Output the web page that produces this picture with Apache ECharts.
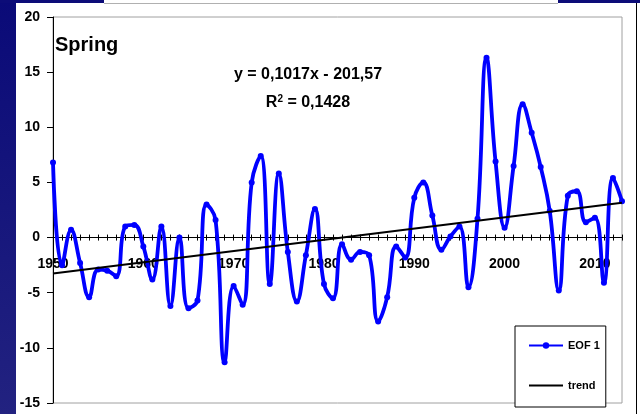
<!DOCTYPE html>
<html>
<head>
<meta charset="utf-8">
<script src="https://cdn.jsdelivr.net/npm/echarts@6/dist/echarts.min.js"></script>
<style>
html,body{margin:0;padding:0;background:#fff;}
#chart{width:640px;height:414px;}
</style>
</head>
<body>
<div id="chart"></div>
<script>
const years = ['1950','1951','1952','1953','1954','1955','1956','1957','1958','1959',
  '1960','1961','1962','1963','1964','1965','1966','1967','1968','1969',
  '1970','1971','1972','1973','1974','1975','1976','1977','1978','1979',
  '1980','1981','1982','1983','1984','1985','1986','1987','1988','1989',
  '1990','1991','1992','1993','1994','1995','1996','1997','1998','1999',
  '2000','2001','2002','2003','2004','2005','2006','2007','2008','2009',
  '2010','2011','2012','2013'];
const eof1 = [6.8,-2.5,0.7,-2.3,-5.4,-2.9,-3.0,-3.5,1.0,1.15,
  -0.8,-3.8,1.0,-6.2,0.0,-6.4,-5.7,3.0,1.6,-11.3,
  -4.4,-6.1,5.0,7.4,-4.2,5.8,-1.3,-5.8,-1.6,2.6,
  -4.2,-5.5,-0.6,-2.0,-1.3,-1.6,-7.6,-5.4,-0.8,-1.8,
  3.6,5.0,2.0,-1.1,0.1,1.0,-4.5,1.7,16.3,6.9,
  0.9,6.5,12.1,9.5,6.4,2.4,-4.8,3.8,4.2,1.4,
  1.8,-4.1,5.4,3.3];
const trendYears = ['1950','2013'];
const trendValues = [-3.26, 3.15];
const yTicks = {min:-15, max:20, interval:5};
const titleText = 'Spring';
const eqText = 'y = 0,1017x - 201,57';
const r2Text = 'R{sup|2} = 0,1428';

const FONT = '"Liberation Sans", Arial, sans-serif';
const G = {left:53, top:17, right:18, bottom:11};
const H = 414 - G.top - G.bottom;
// upper grid spans 0..max so its bottom edge is the zero line of the main grid
const zeroBottom = G.bottom + H * (0 - yTicks.min) / (yTicks.max - yTicks.min);

const chart = echarts.init(document.getElementById('chart'), null, {renderer:'canvas'});
chart.setOption({
  animation:false,
  backgroundColor:'#fff',
  title:{text:titleText, left:55, top:35, padding:0,
    textStyle:{fontFamily:FONT, fontWeight:'bold', fontSize:20, color:'#000'}},
  graphic:[
    {type:'rect', z:-10, shape:{x:0,y:0,width:16,height:414},
      style:{fill:new echarts.graphic.LinearGradient(0,0,0,1,[{offset:0,color:'#0a0a78'},{offset:1,color:'#222280'}])}},
    {type:'rect', z:-10, shape:{x:0,y:0,width:104,height:3}, style:{fill:'#0c0c78'}},
    {type:'rect', z:-10, shape:{x:558,y:0,width:82,height:3}, style:{fill:'#0c0c78'}},
    {type:'line', z:-10, shape:{x1:104,y1:3.5,x2:558,y2:3.5}, style:{stroke:'#b0b0b0',lineWidth:1}},
    {type:'line', z:-10, shape:{x1:636.5,y1:3,x2:636.5,y2:414}, style:{stroke:'#000',lineWidth:1}},
    {type:'text', style:{text:eqText, x:308, y:67, align:'center', verticalAlign:'top',
      font:'bold 16px '+FONT, fill:'#000'}},
    {type:'text', style:{text:r2Text, x:308, y:94, align:'center', verticalAlign:'top',
      font:'bold 16px '+FONT, fill:'#000',
      rich:{sup:{fontSize:10, fontWeight:'bold', fontFamily:FONT, verticalAlign:'top', padding:[0,0,8,0]}}}}
  ],
  grid:[
    Object.assign({show:true, borderColor:'#a0a0a0', borderWidth:1, backgroundColor:'#fff', outerBoundsMode:'none', containLabel:false}, G),
    {show:false, outerBoundsMode:'none', containLabel:false, left:G.left, right:G.right, top:G.top, bottom:zeroBottom}
  ],
  legend:{
    orient:'vertical', left:515, top:326, padding:[14,6,16,13],
    itemWidth:34, itemHeight:8, itemGap:29,
    borderColor:'#000', borderWidth:1, backgroundColor:'#fff',
    textStyle:{fontFamily:FONT, fontWeight:'bold', fontSize:11, color:'#000'},
    data:[{name:'EOF 1'}, {name:'trend', itemStyle:{opacity:0}}]
  },
  xAxis:[
    {type:'category', gridIndex:0, data:years, boundaryGap:false,
      axisLine:{onZero:true, lineStyle:{color:'#000', width:1}},
      axisTick:{show:true, interval:0, length:3, inside:true, lineStyle:{color:'#000'}},
      axisLabel:{show:false},
      splitLine:{show:false}},
    {type:'category', gridIndex:1, data:years, boundaryGap:false, position:'bottom',
      axisLine:{show:false, onZero:false},
      axisTick:{show:true, interval:0, length:3, inside:false, lineStyle:{color:'#000'}},
      axisLabel:{interval:9, margin:20, fontFamily:FONT, fontWeight:'bold', fontSize:14, color:'#000'},
      splitLine:{show:false}}
  ],
  yAxis:[
    {type:'value', gridIndex:0, min:yTicks.min, max:yTicks.max, interval:yTicks.interval,
      axisLine:{show:true, onZero:false, lineStyle:{color:'#000', width:1}},
      axisTick:{show:true, length:6, inside:false, lineStyle:{color:'#000'}},
      axisLabel:{margin:13, fontFamily:FONT, fontWeight:'bold', fontSize:14, color:'#000'},
      splitLine:{show:false}},
    {type:'value', gridIndex:1, min:0, max:yTicks.max, interval:yTicks.interval,
      axisLine:{show:false, onZero:false}, axisTick:{show:false}, axisLabel:{show:false}, splitLine:{show:false}}
  ],
  series:[
    {name:'EOF 1', type:'line', data:eof1, smooth:0.45, showAllSymbol:true,
      symbol:'circle', symbolSize:6,
      lineStyle:{color:'#0000ff', width:3.8}, itemStyle:{color:'#0000ff'}, z:3},
    {name:'trend', type:'line', data:trendYears.map((y,i)=>[y,trendValues[i]]),
      symbol:'none', showSymbol:false,
      lineStyle:{color:'#000', width:2}, itemStyle:{color:'#000'}, z:4}
  ]
});
</script>
</body>
</html>
